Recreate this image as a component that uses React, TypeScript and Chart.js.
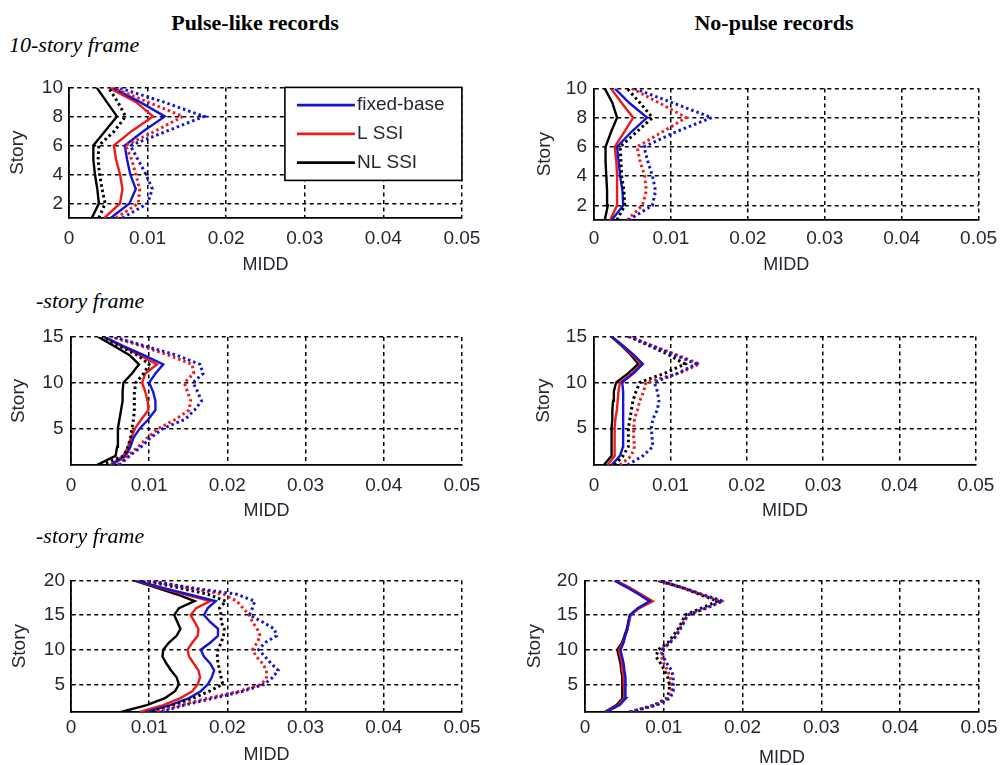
import React, { useEffect, useRef } from 'react';
import { Chart, registerables } from 'chart.js';

Chart.register(...registerables);
Chart.defaults.font.family = '"Liberation Sans", Arial, sans-serif';

// ---------- data ----------
const seriesNames = ['fixed-base', 'L SSI', 'NL SSI'];
const seriesColors = ['#1414d4', '#ee1a1a', '#000000'];
const textColor = '#262633';

const xTicks = [0, 0.01, 0.02, 0.03, 0.04, 0.05];
const yTicks10 = [2, 4, 6, 8, 10];
const yTicks15 = [5, 10, 15];
const yTicks20 = [5, 10, 15, 20];

const stories10 = [1, 2, 3, 4, 5, 6, 7, 8, 9, 10];
const stories15 = [1, 2, 3, 4, 5, 6, 7, 8, 9, 10, 11, 12, 13, 14, 15];
const stories20 = [1, 2, 3, 4, 5, 6, 7, 8, 9, 10, 11, 12, 13, 14, 15, 16, 17, 18, 19, 20];

// 10-story, pulse-like
const p10PulseFixed = [0.0053, 0.0077, 0.0085, 0.0078, 0.0074, 0.0071, 0.0095, 0.0122, 0.009, 0.0055];
const p10PulseL = [0.0045, 0.0065, 0.0068, 0.0065, 0.006, 0.0057, 0.008, 0.0107, 0.0085, 0.005];
const p10PulseNL = [0.0029, 0.0038, 0.0036, 0.0033, 0.0031, 0.0031, 0.0046, 0.0061, 0.0048, 0.0035];
const p10PulseFixedDot = [0.0068, 0.01, 0.0106, 0.0098, 0.0088, 0.0078, 0.0125, 0.0172, 0.012, 0.0062];
const p10PulseLDot = [0.006, 0.0088, 0.009, 0.0085, 0.008, 0.0072, 0.011, 0.0145, 0.01, 0.0055];
const p10PulseNLDot = [0.0038, 0.0046, 0.0042, 0.0039, 0.0037, 0.0038, 0.0058, 0.0072, 0.0062, 0.005];

// 10-story, no-pulse
const p10NoFixed = [0.0023, 0.0038, 0.0037, 0.0034, 0.0032, 0.003, 0.0048, 0.0069, 0.0046, 0.0027];
const p10NoL = [0.0021, 0.003, 0.003, 0.003, 0.0029, 0.0027, 0.0039, 0.0051, 0.0036, 0.0022];
const p10NoNL = [0.0014, 0.0018, 0.0017, 0.0016, 0.0015, 0.0015, 0.0022, 0.003, 0.0024, 0.0014];
const p10NoFixedDot = [0.0045, 0.0076, 0.008, 0.0076, 0.007, 0.0065, 0.0105, 0.0153, 0.0103, 0.0052];
const p10NoLDot = [0.0043, 0.0063, 0.0068, 0.0066, 0.006, 0.0056, 0.0088, 0.012, 0.0085, 0.0049];
const p10NoNLDot = [0.003, 0.004, 0.0039, 0.0036, 0.0035, 0.0034, 0.0055, 0.0076, 0.006, 0.0043];

// 15-story, pulse-like
const p15PulseFixed = [0.0052, 0.007, 0.0076, 0.008, 0.0088, 0.0099, 0.0108, 0.0108, 0.0105, 0.01, 0.0108, 0.0118, 0.0093, 0.0067, 0.0043];
const p15PulseL = [0.005, 0.0067, 0.0073, 0.0077, 0.0082, 0.009, 0.0099, 0.0098, 0.0095, 0.0091, 0.0095, 0.011, 0.0088, 0.0064, 0.0042];
const p15PulseNL = [0.0033, 0.0057, 0.0059, 0.006, 0.006, 0.0062, 0.0064, 0.0066, 0.0066, 0.0067, 0.0078, 0.0087, 0.0075, 0.0055, 0.0035];
const p15PulseFixedDot = [0.0062, 0.0075, 0.009, 0.0102, 0.0118, 0.0146, 0.0158, 0.0167, 0.0162, 0.0156, 0.0169, 0.0165, 0.0135, 0.0095, 0.0055];
const p15PulseLDot = [0.006, 0.0072, 0.0086, 0.0098, 0.0112, 0.0134, 0.0151, 0.0153, 0.0149, 0.0145, 0.0157, 0.0155, 0.0125, 0.009, 0.0052];
const p15PulseNLDot = [0.0038, 0.0068, 0.0073, 0.0076, 0.0078, 0.008, 0.0081, 0.0081, 0.0081, 0.0083, 0.0093, 0.01, 0.0085, 0.0062, 0.004];

// 15-story, no-pulse
const p15NoFixed = [0.0023, 0.0034, 0.0038, 0.0038, 0.0038, 0.0038, 0.0038, 0.0039, 0.0038, 0.0037, 0.0052, 0.0064, 0.0052, 0.0038, 0.0023];
const p15NoL = [0.0018, 0.0027, 0.0027, 0.0027, 0.0027, 0.0028, 0.003, 0.0031, 0.0032, 0.0034, 0.005, 0.0062, 0.005, 0.0037, 0.0023];
const p15NoNL = [0.0013, 0.0023, 0.0023, 0.0023, 0.0023, 0.0024, 0.0024, 0.0025, 0.0026, 0.0029, 0.0045, 0.0058, 0.0048, 0.0036, 0.0022];
const p15NoFixedDot = [0.0044, 0.0064, 0.0077, 0.0076, 0.0075, 0.0077, 0.0083, 0.0085, 0.0083, 0.0079, 0.011, 0.0134, 0.0105, 0.0075, 0.0046];
const p15NoLDot = [0.0034, 0.0049, 0.0053, 0.0052, 0.0052, 0.0053, 0.0057, 0.006, 0.0065, 0.0068, 0.0112, 0.0138, 0.0108, 0.0076, 0.0046];
const p15NoNLDot = [0.0027, 0.0038, 0.0045, 0.0045, 0.0045, 0.0047, 0.0049, 0.0051, 0.0055, 0.006, 0.0093, 0.0119, 0.0098, 0.0072, 0.0045];

// 20-story, pulse-like
const p20PulseFixed = [0.0097, 0.0127, 0.0151, 0.0166, 0.0175, 0.018, 0.0183, 0.0178, 0.017, 0.0166, 0.0178, 0.0188, 0.0188, 0.0178, 0.017, 0.0175, 0.0185, 0.015, 0.0115, 0.0083];
const p20PulseL = [0.0088, 0.0118, 0.014, 0.0155, 0.0162, 0.0165, 0.0163, 0.0157, 0.0151, 0.0149, 0.0155, 0.0162, 0.0163, 0.0158, 0.0153, 0.016, 0.0178, 0.0145, 0.0112, 0.0082];
const p20PulseNL = [0.0064, 0.0097, 0.012, 0.0133, 0.0138, 0.0135, 0.0128, 0.0122, 0.0117, 0.0118, 0.0125, 0.0135, 0.014, 0.0136, 0.0132, 0.0138, 0.0158, 0.0135, 0.0108, 0.008];
const p20PulseFixedDot = [0.0115, 0.0145, 0.0183, 0.022, 0.0247, 0.0258, 0.0265, 0.0256, 0.0248, 0.024, 0.0248, 0.0263, 0.026, 0.0245, 0.0228, 0.0232, 0.0235, 0.0212, 0.015, 0.0098];
const p20PulseLDot = [0.011, 0.014, 0.0175, 0.0215, 0.0244, 0.025, 0.025, 0.0245, 0.0237, 0.0232, 0.0238, 0.0242, 0.0238, 0.0232, 0.0228, 0.022, 0.0212, 0.0195, 0.0145, 0.0095];
const p20PulseNLDot = [0.0103, 0.013, 0.0156, 0.0177, 0.0194, 0.0192, 0.019, 0.0188, 0.0187, 0.0188, 0.0192, 0.0195, 0.0196, 0.0192, 0.0192, 0.019, 0.0198, 0.0175, 0.0135, 0.0092];

// 20-story, no-pulse
const p20NoFixed = [0.0027, 0.0044, 0.0052, 0.0052, 0.0051, 0.0051, 0.005, 0.0049, 0.0047, 0.0045, 0.0049, 0.0051, 0.0054, 0.0055, 0.0057, 0.0067, 0.0082, 0.0068, 0.0053, 0.0037];
const p20NoL = [0.0026, 0.0042, 0.005, 0.005, 0.0049, 0.0049, 0.0048, 0.0047, 0.0045, 0.0043, 0.0048, 0.0051, 0.0054, 0.0056, 0.0058, 0.0069, 0.0086, 0.0071, 0.0056, 0.0039];
const p20NoNL = [0.0025, 0.004, 0.0048, 0.0048, 0.0047, 0.0047, 0.0046, 0.0045, 0.0043, 0.0041, 0.0047, 0.005, 0.0053, 0.0055, 0.0057, 0.0068, 0.0083, 0.007, 0.0055, 0.0038];
const p20NoFixedDot = [0.0058, 0.0091, 0.0108, 0.0112, 0.0112, 0.0112, 0.011, 0.0104, 0.0099, 0.0098, 0.0108, 0.0116, 0.0121, 0.0126, 0.013, 0.0153, 0.0175, 0.0148, 0.0123, 0.0093];
const p20NoLDot = [0.0057, 0.009, 0.0106, 0.011, 0.011, 0.0108, 0.0105, 0.01, 0.0097, 0.0097, 0.0107, 0.0115, 0.012, 0.0125, 0.013, 0.0155, 0.0173, 0.0147, 0.0122, 0.0092];
const p20NoNLDot = [0.0056, 0.0088, 0.0104, 0.0107, 0.0107, 0.0105, 0.0101, 0.0096, 0.009, 0.0093, 0.0105, 0.0112, 0.0118, 0.0123, 0.0127, 0.0148, 0.0168, 0.0145, 0.0122, 0.0092];

// ---------- panel layout ----------
type PanelCfg = {
  left: number; top: number; width: number; height: number;
  yW: number; xH: number; padTop: number; padRight: number;
  xTickPad: number; xTitlePad: number; yTickPad: number; yTitlePad: number;
  stories: number[]; yTicks: number[]; yMin: number; yMax: number;
  solid: number[][]; dotted: number[][]; legend?: boolean;
};

const panels: PanelCfg[] = [
  { left: 0, top: 70, width: 490, height: 210, yW: 69, xH: 62, padTop: 14, padRight: 28,
    xTickPad: 9.6, xTitlePad: 4.2, yTickPad: 6, yTitlePad: 6.1,
    stories: stories10, yTicks: yTicks10, yMin: 1, yMax: 10,
    solid: [p10PulseFixed, p10PulseL, p10PulseNL], dotted: [p10PulseFixedDot, p10PulseLDot, p10PulseNLDot], legend: true },
  { left: 520, top: 70, width: 484, height: 210, yW: 74, xH: 60, padTop: 14, padRight: 24,
    xTickPad: 6.9, xTitlePad: 4.2, yTickPad: 7, yTitlePad: 13.1,
    stories: stories10, yTicks: yTicks10, yMin: 1, yMax: 10,
    solid: [p10NoFixed, p10NoL, p10NoNL], dotted: [p10NoFixedDot, p10NoLDot, p10NoNLDot] },
  { left: 0, top: 318, width: 490, height: 210, yW: 71, xH: 63, padTop: 13, padRight: 28,
    xTickPad: 9.6, xTitlePad: 6.2, yTickPad: 7.5, yTitlePad: 7.1,
    stories: stories15, yTicks: yTicks15, yMin: 1, yMax: 15,
    solid: [p15PulseFixed, p15PulseL, p15PulseNL], dotted: [p15PulseFixedDot, p15PulseLDot, p15PulseNLDot] },
  { left: 520, top: 318, width: 484, height: 210, yW: 74, xH: 63, padTop: 13, padRight: 24,
    xTickPad: 9.6, xTitlePad: 6.2, yTickPad: 7, yTitlePad: 12.6,
    stories: stories15, yTicks: yTicks15, yMin: 1, yMax: 15,
    solid: [p15NoFixed, p15NoL, p15NoNL], dotted: [p15NoFixedDot, p15NoLDot, p15NoNLDot] },
  { left: 0, top: 563, width: 490, height: 202, yW: 71, xH: 53, padTop: 14, padRight: 28,
    xTickPad: 4.6, xTitlePad: -1, yTickPad: 6, yTitlePad: 8.1,
    stories: stories20, yTicks: yTicks20, yMin: 1, yMax: 20,
    solid: [p20PulseFixed, p20PulseL, p20PulseNL], dotted: [p20PulseFixedDot, p20PulseLDot, p20PulseNLDot] },
  { left: 515, top: 562, width: 489, height: 203, yW: 70, xH: 53, padTop: 14, padRight: 25,
    xTickPad: 4.6, xTitlePad: -3.8, yTickPad: 7, yTitlePad: 8.1,
    stories: stories20, yTicks: yTicks20, yMin: 1, yMax: 20,
    solid: [p20NoFixed, p20NoL, p20NoNL], dotted: [p20NoFixedDot, p20NoLDot, p20NoNLDot] },
];

const legendPlugin = {
  id: 'boxLegend',
  afterDatasetsDraw(chart: any) {
    const { ctx, chartArea } = chart;
    const w = 177, h = 93;
    const x0 = chartArea.right - w, y0 = chartArea.top;
    ctx.save();
    ctx.fillStyle = '#ffffff';
    ctx.fillRect(x0, y0, w, h);
    ctx.strokeStyle = '#000';
    ctx.lineWidth = 1.6;
    ctx.strokeRect(x0, y0, w, h);
    seriesNames.forEach((name, k) => {
      const y = y0 + 17.7 + k * 28.8;
      ctx.strokeStyle = seriesColors[k];
      ctx.lineWidth = 2.8;
      ctx.beginPath();
      ctx.moveTo(x0 + 12, y);
      ctx.lineTo(x0 + 70, y);
      ctx.stroke();
      ctx.fillStyle = textColor;
      ctx.font = '19px "Liberation Sans", Arial, sans-serif';
      ctx.textBaseline = 'middle';
      ctx.textAlign = 'left';
      ctx.fillText(name, x0 + 72, y);
    });
    ctx.restore();
  },
};

function Panel({ cfg }: { cfg: PanelCfg }) {
  const ref = useRef<HTMLCanvasElement | null>(null);
  useEffect(() => {
    if (!ref.current) return;
    const datasets: any[] = [];
    cfg.dotted.forEach((vals, k) => {
      datasets.push({
        label: seriesNames[k] + ' (dotted)',
        data: cfg.stories.map((s, i) => ({ x: vals[i], y: s })),
        borderColor: seriesColors[k],
        borderWidth: 3,
        borderDash: [2.5, 3],
        pointRadius: 0,
        showLine: true,
        fill: false,
        tension: 0,
      });
    });
    cfg.solid.forEach((vals, k) => {
      datasets.push({
        label: seriesNames[k],
        data: cfg.stories.map((s, i) => ({ x: vals[i], y: s })),
        borderColor: seriesColors[k],
        borderWidth: 2.4,
        pointRadius: 0,
        showLine: true,
        fill: false,
        tension: 0,
      });
    });
    const chart = new Chart(ref.current, {
      type: 'scatter',
      data: { datasets },
      plugins: cfg.legend ? [legendPlugin] : [],
      options: {
        animation: false,
        responsive: false,
        maintainAspectRatio: false,
        layout: { padding: { top: cfg.padTop, right: cfg.padRight, left: 0, bottom: 0 } },
        plugins: { legend: { display: false }, tooltip: { enabled: false } },
        scales: {
          x: {
            type: 'linear', min: 0, max: 0.05,
            afterBuildTicks: (s: any) => { s.ticks = xTicks.map((v) => ({ value: v })); },
            afterFit: (s: any) => { s.height = cfg.xH; },
            grid: { color: '#000', lineWidth: 1.5, drawTicks: false },
            border: { display: true, color: '#000', width: 1.8, dash: [4, 3.5] },
            ticks: { padding: cfg.xTickPad, color: textColor, font: { size: 19 }, maxRotation: 0, autoSkip: false,
              callback: (v: any) => String(v) },
            title: { display: true, text: 'MIDD', color: textColor, font: { size: 18 },
              padding: { top: 0, bottom: cfg.xTitlePad } },
          },
          y: {
            type: 'linear', min: cfg.yMin, max: cfg.yMax,
            afterBuildTicks: (s: any) => { s.ticks = cfg.yTicks.map((v) => ({ value: v })); },
            afterFit: (s: any) => { s.width = cfg.yW; },
            grid: { color: '#000', lineWidth: 1.5, drawTicks: false },
            border: { display: true, color: '#000', width: 1.8, dash: [4, 3.5] },
            ticks: { padding: cfg.yTickPad, color: textColor, font: { size: 19 }, autoSkip: false,
              callback: (v: any) => String(v) },
            title: { display: true, text: 'Story', color: textColor, font: { size: 19 },
              padding: { top: cfg.yTitlePad, bottom: cfg.yTitlePad } },
          },
        },
      } as any,
    });
    return () => chart.destroy();
  }, [cfg]);
  return (
    <canvas
      ref={ref}
      width={cfg.width}
      height={cfg.height}
      style={{ position: 'absolute', left: cfg.left, top: cfg.top, width: cfg.width, height: cfg.height, display: 'block' }}
    />
  );
}

const serif = '"Liberation Serif", "Times New Roman", serif';

export default function App() {
  return (
    <div style={{ position: 'absolute', left: 0, top: 0, width: 1004, height: 765, background: '#fff', overflow: 'hidden' }}>
      {panels.map((p, i) => <Panel key={i} cfg={p} />)}
      <div style={{ position: 'absolute', left: 55, top: 12, width: 400, textAlign: 'center', font: `bold 22px ${serif}`, lineHeight: '22px', color: '#000' }}>
        Pulse-like records
      </div>
      <div style={{ position: 'absolute', left: 574, top: 12, width: 400, textAlign: 'center', font: `bold 22px ${serif}`, lineHeight: '22px', color: '#000' }}>
        No-pulse records
      </div>
      <div style={{ position: 'absolute', left: 9, top: 34, font: `italic 22px ${serif}`, lineHeight: '22px', color: '#000', whiteSpace: 'nowrap' }}>
        10-story frame
      </div>
      <div style={{ position: 'absolute', left: 36, top: 290, font: `italic 22px ${serif}`, lineHeight: '22px', color: '#000', whiteSpace: 'nowrap' }}>
        -story frame
      </div>
      <div style={{ position: 'absolute', left: 36, top: 525, font: `italic 22px ${serif}`, lineHeight: '22px', color: '#000', whiteSpace: 'nowrap' }}>
        -story frame
      </div>
    </div>
  );
}
